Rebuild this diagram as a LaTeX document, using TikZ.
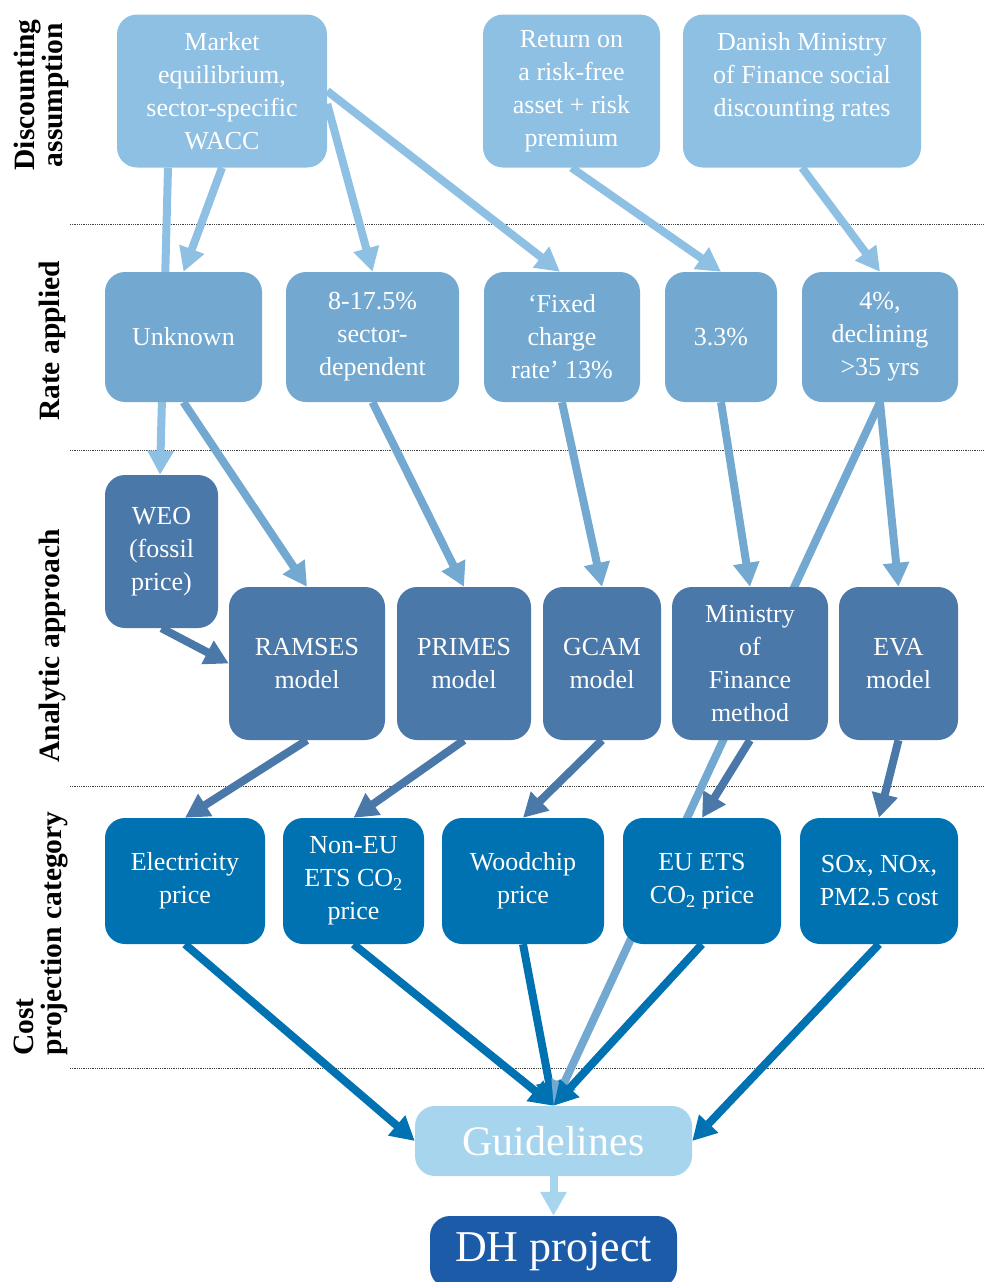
\documentclass[tikz,border=0pt]{standalone}
\usepackage{fontspec}
\setmainfont{Liberation Serif}
\usetikzlibrary{arrows.meta,backgrounds}
\definecolor{cdisc}{RGB}{142,192,228}
\definecolor{crate}{RGB}{115,169,209}
\definecolor{cana}{RGB}{74,120,168}
\definecolor{ccost}{RGB}{0,114,178}
\definecolor{cguide}{RGB}{167,213,237}
\definecolor{cdh}{RGB}{28,91,168}

\begin{document}
\begin{tikzpicture}[x=1pt,y={(0pt,-1pt)},>={Triangle[length=24pt,width=25pt]},
  box/.style={rounded corners=20pt,fill=#1,text=white,align=center,inner sep=0pt,font=\fontsize{26}{33}\selectfont},
  disc/.style={box=cdisc,minimum height=153pt},
  rate/.style={box=crate,minimum height=130pt},
  ana/.style={box=cana,minimum height=153pt},
  cost/.style={box=ccost,minimum height=126pt},
  link/.style={->,line width=8pt,draw=#1},
  rowlab/.style={rotate=90,inner sep=0pt,font=\bfseries\fontsize{29.5}{28}\selectfont},
  sep/.style={densely dotted,line width=0.8pt,black!75}]
\useasboundingbox (0,0) rectangle (984,1282);

% ===== row labels =====
\node[rowlab,align=center] (ldisc) at (41,95) {Discounting\\ assumption};
\node[rowlab] (lrate) at (52,341) {Rate applied};
\node[rowlab] (lana) at (52,646) {Analytic approach};
\node[rowlab,align=left,anchor=west] (lcost) at (41,1056) {Cost\\ projection category};

% ===== discounting assumption =====
\node[disc,minimum width=210pt] (market) at (222,91) {Market\\ equilibrium,\\ sector-specific\\ WACC};
\node[disc,minimum width=177pt] (riskfree) at (571.5,91) {Return on\\ a risk-free\\ asset + risk\\ premium};
\node[disc,minimum width=238pt] (danish) at (802,91) {Danish Ministry\\ of Finance social\\ discounting rates\\ \mbox{}};

% ===== rate applied =====
\node[rate,minimum width=157pt] (unknown) at (183.5,337) {Unknown};
\node[rate,minimum width=173pt] (sector) at (372.5,337) {8-17.5\%\\ sector-\\ dependent};
\node[rate,minimum width=156pt] (fixed) at (562,337) {`Fixed\\ charge\\ rate' 13\%};
\node[rate,minimum width=112pt] (r33) at (721,337) {3.3\%};
\node[rate,minimum width=156pt] (r4) at (880,337) {4\%,\\ declining\\ >35 yrs};

% ===== analytic approach =====
\node[ana,minimum width=113pt] (weo) at (161.5,551.5) {WEO\\ (fossil\\ price)};
\node[ana,minimum width=156pt] (ramses) at (307,663.5) {RAMSES\\ model};
\node[ana,minimum width=134pt] (primes) at (464,663.5) {PRIMES\\ model};
\node[ana,minimum width=118pt] (gcam) at (602,663.5) {GCAM\\ model};
\node[ana,minimum width=156pt] (mof) at (750,663.5) {Ministry\\ of\\ Finance\\ method};
\node[ana,minimum width=119pt] (eva) at (898.5,663.5) {EVA\\ model};

% ===== cost projection category =====
\node[cost,minimum width=160pt] (elec) at (185,881) {Electricity\\ price};
\node[cost,minimum width=141pt] (noneu) at (353.5,881) {Non-EU\\ ETS CO\textsubscript{2}\\ price};
\node[cost,minimum width=162pt] (wood) at (523,881) {Woodchip\\ price};
\node[cost,minimum width=158pt] (euets) at (702,881) {EU ETS\\ CO\textsubscript{2} price};
\node[cost,minimum width=158pt] (sox) at (879,881) {SOx, NOx,\\ PM2.5 cost};

% ===== outcome =====
\node[box=cguide,minimum width=277pt,minimum height=70pt,font=\fontsize{42}{42}\selectfont] (guide) at (553.5,1141) {Guidelines};
\node[box=cdh,minimum width=247pt,minimum height=72pt,font=\fontsize{44}{44}\selectfont] (dh) at (553.5,1252) {DH project};

% ===== connectors (behind the boxes) =====
\begin{scope}[on background layer]
\foreach \y in {224,450,786,1068}{\draw[sep] (70,\y) -- (984,\y);}
\draw[link=cdisc] ([xshift=-54pt]market.south) -- ([xshift=-1.5pt]weo.north);
\draw[link=cdisc] (market.south) -- (unknown.north);
\draw[link=cdisc] ([yshift=-13pt]market.east) -- (sector.north);
\draw[link=cdisc] (market.east) -- ([xshift=-2pt]fixed.north);
\draw[link=cdisc] (riskfree.south) -- (r33.north);
\draw[link=cdisc] (danish.south) -- (r4.north);
\foreach \a/\b in {unknown/ramses,sector/primes,fixed/gcam,r33/mof,r4/eva}{\draw[link=crate] (\a.south) -- (\b.north);}
\draw[link=cana] (weo.south) -- (ramses.west);
\foreach \a/\b in {ramses/elec,primes/noneu,gcam/wood,mof/euets,eva/sox}{\draw[link=cana] (\a.south) -- (\b.north);}
\draw[link=ccost] (elec.south) -- (guide.west);
\foreach \a in {noneu,wood}{\draw[link=ccost] (\a.south) -- (guide.north);}
\draw[link=crate] (r4.south) -- (guide.north);
\draw[link=ccost] (euets.south) -- (guide.north);
\draw[link=ccost] (sox.south) -- (guide.east);
\draw[link=cguide] (guide.south) -- (dh.north);
\end{scope}
\end{tikzpicture}
\end{document}
